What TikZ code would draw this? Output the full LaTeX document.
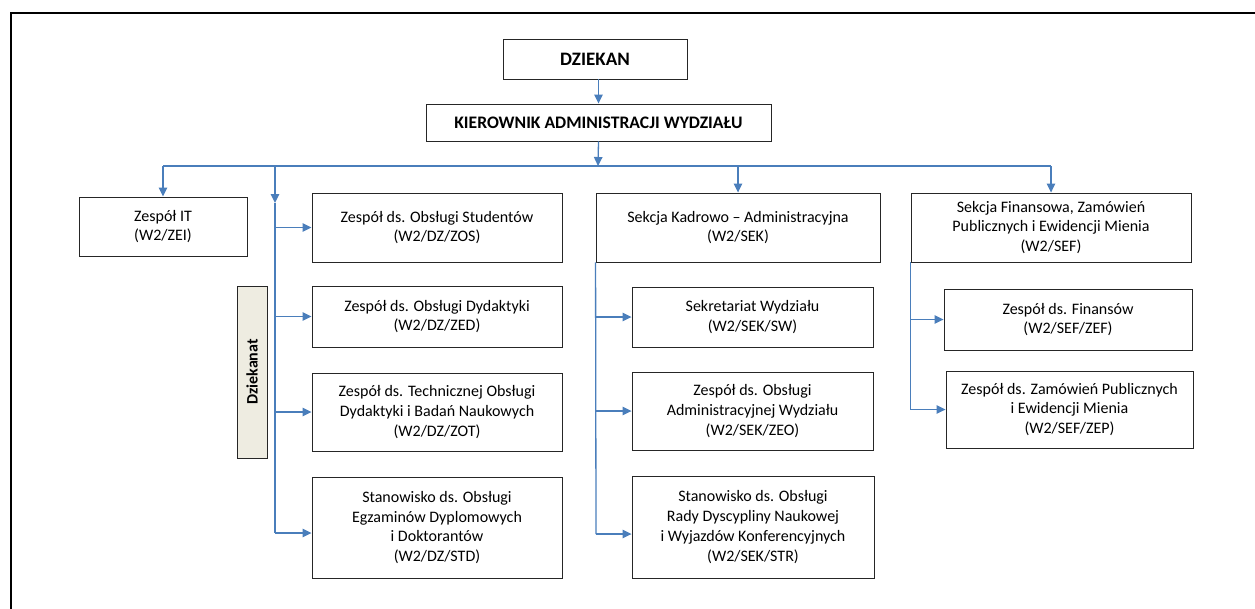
\documentclass[tikz,border=0pt]{standalone}
\usepackage{fontspec}
\setmainfont{Carlito}
\usetikzlibrary{arrows.meta}
\definecolor{linkblue}{HTML}{4A7EBB}
\definecolor{deanfill}{HTML}{EEECE1}

\begin{document}
\begin{tikzpicture}[x=1pt, y=-1pt,
  box/.style={draw=black!85, line width=0.9pt, align=center, inner sep=0pt,
    font=\fontsize{16}{19.8}\selectfont},
  deanbox/.style={box, fill=deanfill, font=\fontsize{16}{19.8}\selectfont\bfseries},
  link/.style={draw=linkblue, line width=1.3pt},
  arr/.style={link, -{Triangle[length=9pt,width=8.5pt]}}]
\useasboundingbox (0,0) rectangle (1255,608);
\draw[line width=2.4pt] (11,612) -- (11,13) -- (1259,13);

\node[box, minimum width=184pt, minimum height=40pt, font=\fontsize{19}{22}\selectfont\bfseries] (dziekan) at (595,59) {DZIEKAN};
\node[box, minimum width=345pt, minimum height=37pt, font=\fontsize{17.6}{20}\selectfont\bfseries] (kier) at (598.5,122.5) {KIEROWNIK ADMINISTRACJI WYDZIAŁU};

\node[box, minimum width=168pt, minimum height=59pt] (zei) at (163,226.5) {Zespół IT\\(W2/ZEI)};
\node[deanbox, rotate=90, minimum width=172pt, minimum height=30pt] (dzk) at (252,372) {Dziekanat};
\node[box, minimum width=250pt, minimum height=69pt] (zos) at (437,227.5) {Zespół ds. Obsługi Studentów\\(W2/DZ/ZOS)};
\node[box, minimum width=250pt, minimum height=61pt] (zed) at (437,316.5) {Zespół ds. Obsługi Dydaktyki\\(W2/DZ/ZED)};
\node[box, minimum width=250pt, minimum height=78pt] (zot) at (437,412) {Zespół ds. Technicznej Obsługi\\Dydaktyki i Badań Naukowych\\(W2/DZ/ZOT)};
\node[box, minimum width=250pt, minimum height=101pt] (std) at (437,527.5) {Stanowisko ds. Obsługi\\Egzaminów Dyplomowych\\i Doktorantów\\(W2/DZ/STD)};

\node[box, minimum width=284pt, minimum height=69pt] (sek) at (738,227.5) {Sekcja Kadrowo – Administracyjna\\(W2/SEK)};
\node[box, minimum width=241pt, minimum height=60pt] (sw) at (752.5,317) {Sekretariat Wydziału\\(W2/SEK/SW)};
\node[box, minimum width=241pt, minimum height=78pt] (zeo) at (752.5,411) {Zespół ds. Obsługi\\Administracyjnej Wydziału\\(W2/SEK/ZEO)};
\node[box, minimum width=242pt, minimum height=102pt] (str) at (753,527) {Stanowisko ds. Obsługi\\Rady Dyscypliny Naukowej\\i Wyjazdów Konferencyjnych\\(W2/SEK/STR)};

\node[box, minimum width=280pt, minimum height=69pt] (sef) at (1051,227.5) {Sekcja Finansowa, Zamówień\\Publicznych i Ewidencji Mienia\\(W2/SEF)};
\node[box, minimum width=248pt, minimum height=61pt] (zef) at (1068,319.5) {Zespół ds. Finansów\\(W2/SEF/ZEF)};
\node[box, minimum width=247pt, minimum height=77pt] (zep) at (1069.5,409.5) {Zespół ds. Zamówień Publicznych\\i Ewidencji Mienia\\(W2/SEF/ZEP)};

\coordinate (bus) at (598,166);
\coordinate (dzbus) at (275,203);
\coordinate (dzend) at (275,533);
\coordinate (sekend) at (596,534);

\draw[arr] (kier.north |- dziekan.south) -- (kier.north);
\draw[arr] (kier.south) -- (bus);
\draw[link] (zei.north |- bus) -- (sef.north |- bus);
\draw[arr] (zei.north |- bus) -- (zei.north);
\draw[arr] (dzbus |- bus) -- (dzbus);
\draw[arr] (sek.north |- bus) -- (sek.north);
\draw[arr] (sef.north |- bus) -- (sef.north);

\draw[link] (dzbus) -- (dzend);
\foreach \n in {zos,zed,zot}
  \draw[arr] (dzbus |- \n.west) -- (\n.west);
\draw[arr] (dzend) -- (dzend -| std.west);

\draw[link] (sek.south west) -- (sekend);
\foreach \n in {sw,zeo}
  \draw[arr] (sek.south west |- \n.west) -- (\n.west);
\draw[arr] (sekend) -- (sekend -| str.west);

\draw[link] (sef.south west) -- (sef.south west |- zep.west);
\foreach \n in {zef,zep}
  \draw[arr] (sef.south west |- \n.west) -- (\n.west);
\end{tikzpicture}
\end{document}
